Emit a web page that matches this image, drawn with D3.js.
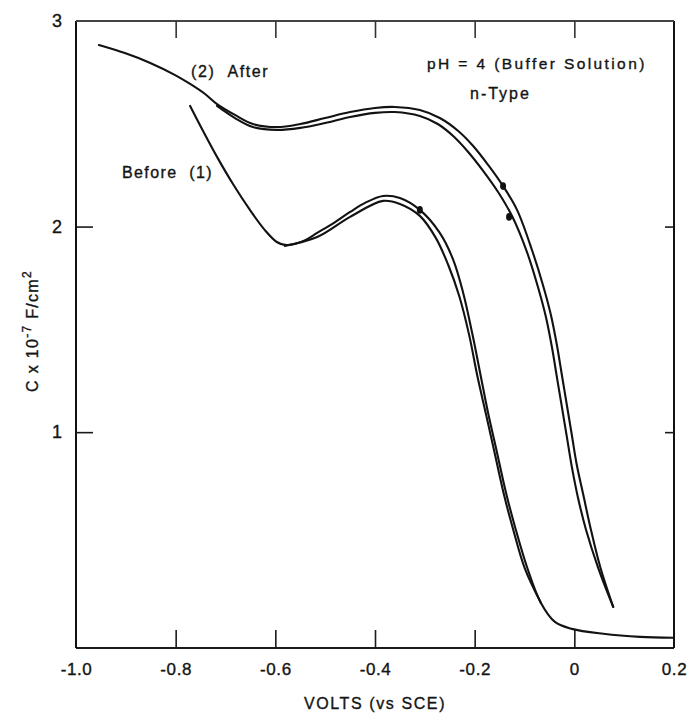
<!DOCTYPE html>
<html>
<head>
<meta charset="utf-8">
<script src="https://d3js.org/d3.v7.min.js"></script>
<style>
  html, body { margin: 0; padding: 0; background: #fff; }
  svg text { font-family: "Liberation Sans", Arial, sans-serif; fill: #141414; stroke: #141414; stroke-width: 0.35px; }
</style>
</head>
<body>
<div id="chart"></div>
<script>
// volts (vs SCE) and capacitance (x 1e-7 F/cm2)

// (2) After - outer sweep
const afterOuterV = [-0.954, -0.902, -0.851, -0.801, -0.771, -0.741, -0.717, -0.681, -0.645, -0.597, -0.550, -0.500, -0.450, -0.400, -0.360, -0.310, -0.270, -0.233, -0.203, -0.173, -0.143, -0.115, -0.085, -0.063, -0.047, -0.035, -0.025, -0.015, -0.005, 0.005, 0.018, 0.032, 0.052, 0.078]
const afterOuterC = [2.883, 2.844, 2.796, 2.737, 2.694, 2.645, 2.596, 2.543, 2.499, 2.484, 2.499, 2.528, 2.557, 2.577, 2.582, 2.567, 2.528, 2.465, 2.392, 2.300, 2.197, 2.081, 1.886, 1.716, 1.570, 1.424, 1.278, 1.132, 0.986, 0.840, 0.695, 0.539, 0.344, 0.150]

// (2) After - inner sweep
const afterInnerV = [-0.717, -0.681, -0.645, -0.597, -0.550, -0.500, -0.450, -0.400, -0.360, -0.310, -0.274, -0.241, -0.213, -0.183, -0.153, -0.125, -0.095, -0.073, -0.057, -0.045, -0.035, -0.025, -0.015, -0.005, 0.007, 0.023, 0.048, 0.078]
const afterInnerC = [2.587, 2.528, 2.484, 2.470, 2.480, 2.504, 2.533, 2.553, 2.557, 2.538, 2.499, 2.436, 2.363, 2.271, 2.168, 2.051, 1.876, 1.706, 1.560, 1.414, 1.268, 1.123, 0.977, 0.831, 0.685, 0.529, 0.339, 0.150]

// (1) Before - outer sweep
const beforeOuterV = [-0.771, -0.745, -0.717, -0.685, -0.651, -0.621, -0.597, -0.581, -0.561, -0.540, -0.516, -0.480, -0.450, -0.420, -0.384, -0.350, -0.310, -0.270, -0.243, -0.223, -0.205, -0.189, -0.173, -0.155, -0.137, -0.119, -0.095, -0.067, -0.039, -0.005, 0.058, 0.132, 0.198]
const beforeOuterC = [2.587, 2.465, 2.339, 2.207, 2.081, 1.983, 1.925, 1.911, 1.915, 1.934, 1.969, 2.022, 2.071, 2.115, 2.149, 2.139, 2.081, 1.969, 1.838, 1.677, 1.482, 1.288, 1.093, 0.899, 0.704, 0.539, 0.344, 0.169, 0.077, 0.043, 0.019, 0.004, 0.000]

// (1) Before - inner sweep
const beforeInnerV = [-0.581, -0.516, -0.450, -0.384, -0.350, -0.310, -0.278, -0.253, -0.231, -0.211, -0.195, -0.177, -0.159, -0.141, -0.123, -0.099, -0.067]
const beforeInnerC = [1.906, 1.949, 2.047, 2.125, 2.110, 2.052, 1.945, 1.813, 1.662, 1.472, 1.278, 1.084, 0.889, 0.694, 0.529, 0.335, 0.169]

// small pen dots on the traces
const dotV = [-0.310, -0.143, -0.131]
const dotC = [2.081, 2.197, 2.047]

const xTicks = [-1.0, -0.8, -0.6, -0.4, -0.2, 0, 0.2]
const xTickLabels = ["-1.0", "-0.8", "-0.6", "-0.4", "-0.2", "0", "0.2"]
const yTicks = [1, 2, 3]
const yTickLabels = ["1", "2", "3"]

const width = 693, height = 717
const mLeft = 76, mRight = 674, mTop = 21, mBottom = 648

const x = d3.scaleLinear().domain([-1.0, 0.2]).range([mLeft, mRight])
const y = d3.scaleLinear().domain([-0.05, 3.0]).range([mBottom, mTop])

const zip = (vs, cs) => vs.map((v, i) => [v, cs[i]])

const svg = d3.select("#chart")
    .append("svg")
    .attr("width", width)
    .attr("height", height)

// frame
svg.append("line")
    .attr("x1", x(-1.0)).attr("x2", x(0.2))
    .attr("y1", y.range()[0]).attr("y2", y.range()[0])
    .attr("stroke", "#1a1a1a").attr("stroke-width", 2)
svg.append("line")
    .attr("x1", x(-1.0)).attr("x2", x(-1.0))
    .attr("y1", y.range()[0]).attr("y2", y.range()[1])
    .attr("stroke", "#111").attr("stroke-width", 2)
svg.append("line")
    .attr("x1", x(0.2)).attr("x2", x(0.2))
    .attr("y1", y.range()[0]).attr("y2", y.range()[1])
    .attr("stroke", "#111").attr("stroke-width", 2)
svg.append("line")
    .attr("x1", x(-1.0)).attr("x2", x(0.2))
    .attr("y1", y.range()[1]).attr("y2", y.range()[1])
    .attr("stroke", "#444").attr("stroke-width", 1.8)

// bottom axis, ticks pointing in
const gx = svg.append("g")
    .attr("transform", `translate(0,${mBottom})`)
    .call(d3.axisBottom(x)
        .tickValues(xTicks)
        .tickSize(-18)
        .tickPadding(15)
        .tickFormat((d, i) => xTickLabels[i]))
gx.select(".domain").remove()
gx.selectAll(".tick line")
    .attr("stroke", "#1a1a1a").attr("stroke-width", 1.6)
    .filter(d => d === -1.0 || d === 0.2).remove()
gx.selectAll(".tick text")
    .attr("font-size", 17)
    .attr("letter-spacing", 0.6)
    .attr("fill", "#141414")

// top axis, no labels
const gt = svg.append("g")
    .attr("transform", `translate(0,${mTop})`)
    .call(d3.axisTop(x)
        .tickValues(xTicks.slice(1, -1))
        .tickSize(-17)
        .tickFormat(""))
gt.select(".domain").remove()
gt.selectAll(".tick line").attr("stroke", "#333").attr("stroke-width", 1.6)

// left axis
const gy = svg.append("g")
    .attr("transform", `translate(${mLeft},0)`)
    .call(d3.axisLeft(y)
        .tickValues(yTicks)
        .tickSize(-17)
        .tickPadding(14)
        .tickFormat((d, i) => yTickLabels[i]))
gy.select(".domain").remove()
gy.selectAll(".tick line")
    .attr("stroke", "#1a1a1a").attr("stroke-width", 1.6)
    .filter(d => d === 3).remove()
gy.selectAll(".tick text")
    .attr("font-size", 18)
    .attr("fill", "#141414")

// right axis, no labels
const gr = svg.append("g")
    .attr("transform", `translate(${mRight},0)`)
    .call(d3.axisRight(y)
        .tickValues(yTicks.slice(0, 2))
        .tickSize(-9)
        .tickFormat(""))
gr.select(".domain").remove()
gr.selectAll(".tick line").attr("stroke", "#1a1a1a").attr("stroke-width", 1.6)

// traces
const line = d3.line()
    .x(d => x(d[0]))
    .y(d => y(d[1]))
    .curve(d3.curveCatmullRom.alpha(0.5))

const traces = [
    zip(afterOuterV, afterOuterC),
    zip(afterInnerV, afterInnerC),
    zip(beforeOuterV, beforeOuterC),
    zip(beforeInnerV, beforeInnerC)
]

svg.append("g")
    .selectAll("path")
    .data(traces)
    .enter()
    .append("path")
        .attr("d", line)
        .attr("fill", "none")
        .attr("stroke", "#121212")
        .attr("stroke-width", 2.1)
        .attr("stroke-linecap", "round")

svg.append("g")
    .selectAll("ellipse")
    .data(zip(dotV, dotC))
    .enter()
    .append("ellipse")
        .attr("cx", d => x(d[0]))
        .attr("cy", d => y(d[1]))
        .attr("rx", 3)
        .attr("ry", 3.8)
        .attr("fill", "#111")

// annotations
const note = (tx, ty, str, size, spacing) => svg.append("text")
    .attr("x", tx).attr("y", ty)
    .attr("font-size", size)
    .attr("letter-spacing", spacing)
    .text(str)

note(191, 77, "(2)\u00a0\u00a0After", 16, 1.6)
note(122, 178, "Before\u00a0\u00a0(1)", 16, 1.4)
note(427, 69, "pH = 4 (Buffer Solution)", 15.5, 2.4)
note(470, 99, "n-Type", 16, 2)

// axis titles
svg.append("text")
    .attr("x", (mLeft + mRight) / 2)
    .attr("y", 709)
    .attr("text-anchor", "middle")
    .attr("font-size", 16)
    .attr("letter-spacing", 1.6)
    .text("VOLTS (vs SCE)")

const yt = svg.append("text")
    .attr("transform", `translate(38,${331}) rotate(-90)`)
    .attr("text-anchor", "middle")
    .attr("font-size", 16)
    .attr("letter-spacing", 1.3)
yt.append("tspan").text("C x 10")
yt.append("tspan").attr("dy", -7).attr("font-size", 12).text("-7")
yt.append("tspan").attr("dy", 7).text(" F/cm")
yt.append("tspan").attr("dy", -7).attr("font-size", 12).text("2")
</script>
</body>
</html>
